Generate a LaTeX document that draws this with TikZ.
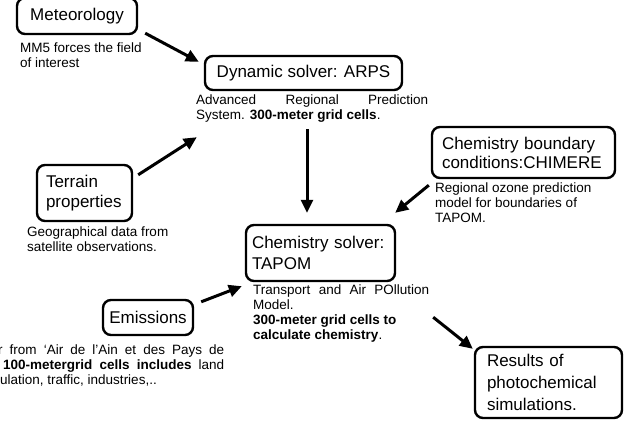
\documentclass[tikz,border=0pt]{standalone}
\usepackage{fontspec}
\setmainfont{Liberation Sans}
\usetikzlibrary{arrows.meta}
\begin{document}
\begin{tikzpicture}[x=1pt,y=-1pt,
  box/.style={draw, line width=2.4pt, rounded corners=8pt, font=\fontsize{17}{20.5}\selectfont, inner ysep=0pt},
  desc/.style={anchor=north west, inner sep=0pt, align=left, font=\fontsize{13.5}{15}\selectfont},
  arr/.style={line width=3pt, -{Triangle[length=13pt,width=12pt]}}]
\path[use as bounding box] (0,0) rectangle (627,421);
\clip (0,0) rectangle (627,421);

% boxes
\node[box, minimum width=120pt, minimum height=36pt] (met) at (77,16) {Meteorology};
\node[box, minimum width=197pt, minimum height=34pt] (dyn) at (303.5,73) {Dynamic solver: ARPS};
\node[box, minimum width=183pt, minimum height=51pt, text width=163pt, inner xsep=10pt, align=left, font=\fontsize{17}{19}\selectfont] (chim) at (523.5,152.5) {Chemistry boundary\\conditions:CHIMERE};
\node[box, minimum width=95pt, minimum height=56pt, text width=77pt, inner xsep=9pt, align=left] (ter) at (84.5,193) {Terrain\\properties};
\node[box, minimum width=149pt, minimum height=56pt, text width=137pt, inner xsep=6pt, align=left] (tap) at (320.5,253) {Chemistry solver:\\TAPOM};
\node[box, minimum width=90pt, minimum height=35pt] (emi) at (148,317.5) {Emissions};
\node[box, minimum width=147pt, minimum height=71pt, text width=123pt, inner xsep=12pt, align=left, font=\fontsize{17}{22}\selectfont] (res) at (548.5,382.5) {Results of\\photochemical\\simulations.};

% descriptions
\node[desc] (metd) at (20,43) {MM5 forces the field\\of interest};
\node[desc] (dynd) at (196,95) {\makebox[232pt][s]{Advanced Regional Prediction}\\System. \textbf{300-meter grid cells}.};
\node[desc] (chimd) at (435,183) {Regional ozone prediction\\model for boundaries of\\TAPOM.};
\node[desc] (terd) at (27,227) {Geographical data from\\satellite observations.};
\node[desc] (tapd) at (253,285) {\makebox[176pt][s]{Transport and Air POllution}\\Model.\\\textbf{300-meter grid cells to}\\\textbf{calculate chemistry}.};
\node[desc] (emid) at (-2,345) {\makebox[226pt][s]{r from ‘Air de l’Ain et des Pays de}\\\makebox[226pt][s]{\hspace*{5pt}\textbf{100-metergrid cells includes} land}\\\hspace*{2pt}ulation, traffic, industries,..};

% connectors
\draw[arr] ([shift={(7,-2)}]met.south east) -- ([shift={(-5,7)}]dyn.north west);
\draw[arr] ([shift={(5,11)}]ter.north east) -- ([shift={(-7,46)}]dyn.south west);
\draw[arr] ([shift={(3.5,38)}]dyn.south) -- ([shift={(-13.5,-11)}]tap.north);
\draw[arr] ([shift={(-2,6)}]chim.south west) -- ([shift={(-1,-11)}]tap.north east);
\draw[arr] ([shift={(7,3)}]emi.north east) -- ([shift={(-3,4)}]tap.south west);
\draw[arr] ([shift={(37,35)}]tap.south east) -- ([shift={(-1,3)}]res.north west);
\end{tikzpicture}
\end{document}
